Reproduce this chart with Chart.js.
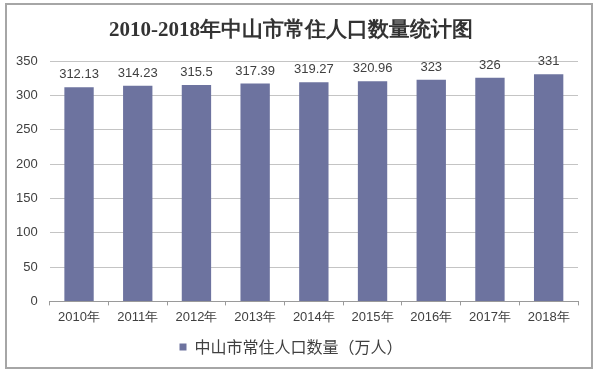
<!DOCTYPE html>
<html>
<head>
<meta charset="utf-8">
<script src="https://cdn.jsdelivr.net/npm/chart.js@4/dist/chart.umd.min.js"></script>
<style>
  html, body { margin: 0; padding: 0; background: #fff; }
  #wrap { width: 600px; height: 375px; }
</style>
</head>
<body>
<div id="wrap"><canvas id="c" width="600" height="375"></canvas></div>
<script>
// data
const years = ['2010年', '2011年', '2012年', '2013年', '2014年', '2015年', '2016年', '2017年', '2018年'];
const population = [312.13, 314.23, 315.5, 317.39, 319.27, 320.96, 323, 326, 331];
const seriesName = '中山市常住人口数量（万人）';
const chartTitle = '2010-2018年中山市常住人口数量统计图';

const barColor = '#6d739f';
const textColor = '#404040';

// outer frame like the exported picture
const framePlugin = {
  id: 'frame',
  beforeDraw(chart) {
    const c = chart.ctx;
    c.save();
    c.fillStyle = '#fff';
    c.fillRect(0, 0, chart.width, chart.height);
    c.strokeStyle = '#a6a6a6';
    c.lineWidth = 2;
    c.strokeRect(6, 4, 586, 364);
    c.restore();
  }
};

// value labels above every bar
const valueLabels = {
  id: 'valueLabels',
  afterDatasetsDraw(chart) {
    const c = chart.ctx;
    const meta = chart.getDatasetMeta(0);
    c.save();
    c.font = '13px "Liberation Sans", Arial, sans-serif';
    c.fillStyle = textColor;
    c.textAlign = 'center';
    c.textBaseline = 'bottom';
    meta.data.forEach((bar, i) => {
      c.fillText(String(population[i]), bar.x, bar.y - 6);
    });
    c.restore();
  }
};

new Chart(document.getElementById('c'), {
  type: 'bar',
  data: {
    labels: years,
    datasets: [{
      label: seriesName,
      data: population,
      backgroundColor: barColor,
      borderWidth: 0,
      categoryPercentage: 1,
      barPercentage: 0.5,
    }]
  },
  options: {
    responsive: false,
    animation: false,
    layout: { padding: { left: 4, right: 22, top: 6, bottom: 10 } },
    plugins: {
      title: {
        display: true,
        text: chartTitle,
        color: '#333',
        font: { family: '"Liberation Serif", "DejaVu Serif", serif', size: 21, weight: 'bold' },
        padding: { top: 12, bottom: 18 }
      },
      legend: {
        position: 'bottom',
        labels: {
          color: textColor,
          boxWidth: 7, boxHeight: 7, padding: 10,
          font: { family: '"Noto Sans CJK SC", sans-serif', size: 16 }
        }
      },
      tooltip: { enabled: false }
    },
    scales: {
      x: {
        grid: { offset: true, drawOnChartArea: false, tickLength: 4, color: '#9a9a9a' },
        border: { color: '#9a9a9a' },
        ticks: { color: textColor, padding: 4, maxRotation: 0, font: { family: '"Liberation Sans", Arial, sans-serif', size: 13 } }
      },
      y: {
        min: 0, max: 350,
        grid: { color: '#c4c4c4', drawTicks: false },
        border: { display: false },
        ticks: { stepSize: 50, color: textColor, padding: 12, font: { family: '"Liberation Sans", Arial, sans-serif', size: 13 } }
      }
    }
  },
  plugins: [framePlugin, valueLabels]
});
</script>
</body>
</html>
